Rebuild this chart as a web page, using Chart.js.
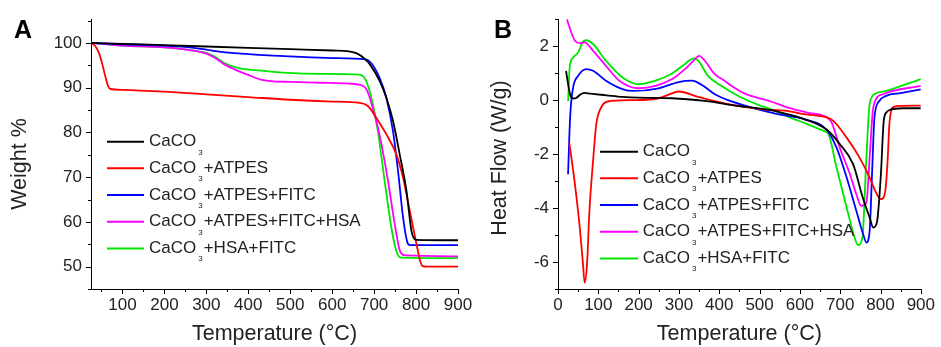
<!DOCTYPE html>
<html><head><meta charset="utf-8">
<script src="https://cdn.jsdelivr.net/npm/chart.js@4/dist/chart.umd.min.js"></script>
<style>
html,body{margin:0;padding:0;background:#fff;}
#wrap{position:relative;width:941px;height:347px;overflow:hidden;background:#fff;}
#wrap canvas{position:absolute;left:0;top:0;}
</style></head><body>
<div id="wrap"><canvas id="cA" width="941" height="347"></canvas><canvas id="cB" width="941" height="347"></canvas></div>
<script>
// ---------- series names ----------
const seriesLabels = ['CaCO₃', 'CaCO₃+ATPES', 'CaCO₃+ATPES+FITC', 'CaCO₃+ATPES+FITC+HSA', 'CaCO₃+HSA+FITC'];

// ---------- Panel A: TGA, [temperature °C, weight %] ----------
const tgaCaCO3 = [[25,100],[60,99.9],[100,99.8],[200,99.5],[300,99.2],[400,98.9],[500,98.6],[600,98.3],[640,98.1],[660,97.6],[677,96.5],[690,95.2],[713,91.5],[729,87.8],[745,82.6],[761,75.1],[777,67],[789,58],[795,56.3],[800,56],[900,55.9]];
const tgaATPES = [[25,100],[35,99.3],[45,97.5],[52,95.2],[60,92.2],[66,90.3],[72,89.7],[100,89.5],[200,89.1],[300,88.5],[400,87.9],[500,87.3],[600,86.9],[665,86.6],[685,85.9],[705,83.3],[729,79.6],[753,75.1],[769,69.9],[785,62.5],[801,55.1],[810,51.2],[816,50.1],[825,50],[900,50]];
const tgaATPES_FITC = [[25,100],[100,99.7],[200,99.4],[260,99],[300,98.5],[335,98],[400,97.5],[500,97],[600,96.6],[680,96.3],[693,95.5],[713,92.2],[729,87.8],[745,80.3],[757,71.4],[769,61],[779,55.5],[785,54.8],[900,54.8]];
const tgaATPES_FITC_HSA = [[25,100],[100,99.4],[200,99],[260,98.4],[300,97.6],[320,96.7],[343,95.2],[367,94.1],[398,92.9],[430,91.8],[460,91.4],[500,91.3],[573,91.1],[640,90.9],[667,90.6],[682,89.6],[701,84],[716,78.1],[733,69.2],[749,59.6],[760,54],[765,52.9],[775,52.5],[900,52.3]];
const tgaHSA_FITC = [[25,100],[100,99.4],[200,99],[255,98.5],[280,98.1],[300,97.8],[319,97],[343,95.5],[375,94.4],[430,93.8],[494,93.3],[573,93.1],[665,92.9],[681,91.5],[697,86.3],[709,80.3],[725,69.2],[741,58.8],[750,54.5],[757,52.5],[765,52],[900,51.9]];

// ---------- Panel B: DSC, [temperature °C, heat flow W/g] ----------
const dscCaCO3 = [[20,1.08],[25,0.6],[31,0.16],[38,0.06],[45,0.08],[55,0.2],[65,0.27],[80,0.24],[120,0.18],[160,0.12],[200,0.09],[283,0.07],[364,-0.03],[446,-0.21],[528,-0.37],[569,-0.52],[600,-0.65],[667,-1.1],[699,-1.63],[732,-2.37],[756,-3.61],[773,-4.35],[782,-4.72],[791,-4.54],[801,-2.74],[808,-0.77],[815,-0.45],[822,-0.37],[855,-0.3],[900,-0.3]];
const dscATPES = [[28,-1.57],[42,-3.12],[54,-4.72],[62,-6.08],[66,-6.76],[72,-6.08],[78,-4.1],[87,-2.25],[95,-0.89],[107,-0.27],[123,-0.05],[185,0],[250,0.07],[283,0.25],[299,0.32],[348,0.12],[422,-0.15],[503,-0.33],[568,-0.4],[610,-0.52],[667,-0.64],[683,-0.77],[716,-1.39],[748,-2.13],[773,-2.87],[789,-3.43],[801,-3.67],[812,-3.36],[818,-2.13],[822,-0.89],[830,-0.27],[846,-0.21],[900,-0.2]];
const dscATPES_FITC = [[25,-2.75],[28,-1.39],[31,-0.4],[37.5,0.47],[50,0.9],[70,1.15],[87,1.09],[119,0.72],[160,0.41],[185,0.34],[250,0.44],[299,0.67],[332,0.72],[356,0.57],[389,0.22],[422,0],[479,-0.27],[544,-0.52],[610,-0.7],[667,-1.11],[691,-1.76],[716,-2.87],[740,-4.1],[757,-4.97],[765,-5.28],[773,-4.85],[779,-2.74],[785,-0.64],[797,-0.03],[814,0.16],[850,0.26],[900,0.4]];
const dscATPES_FITC_HSA = [[22,3.0],[33,2.51],[42,2.2],[54,2.11],[66,2.14],[87,1.83],[119,1.27],[152,0.72],[201,0.44],[242,0.53],[283,0.78],[315,1.15],[340,1.52],[350,1.64],[364,1.46],[389,0.96],[413,0.72],[430,0.53],[462,0.25],[528,-0.05],[569,-0.27],[618,-0.46],[667,-0.64],[679,-0.83],[699,-1.76],[724,-2.74],[740,-3.49],[752,-3.92],[765,-3.8],[773,-2.13],[781,-0.4],[789,0.04],[806,0.22],[900,0.53]];
const dscHSA_FITC = [[25,-0.03],[29,1.21],[37.5,1.58],[50,1.77],[62,2.17],[70,2.22],[87,2.08],[119,1.46],[160,0.84],[201,0.59],[242,0.72],[283,0.99],[315,1.34],[336,1.55],[348,1.46],[372,0.9],[405,0.53],[446,0.16],[503,-0.21],[528,-0.33],[569,-0.6],[618,-0.89],[659,-1.14],[671,-1.26],[691,-2.5],[716,-3.98],[736,-5.1],[744,-5.37],[755,-5.1],[765,-2.13],[773,-0.15],[785,0.22],[814,0.34],[900,0.78]];

// ---------- tick labels ----------
const xTicksA = [100,200,300,400,500,600,700,800,900];
const yTicksA = [50,60,70,80,90,100];
const xTicksB = [0,100,200,300,400,500,600,700,800,900];
const yTicksB = [-6,-4,-2,0,2];

const tgaSeries = [tgaCaCO3, tgaATPES, tgaATPES_FITC, tgaATPES_FITC_HSA, tgaHSA_FITC];
const dscSeries = [dscCaCO3, dscATPES, dscATPES_FITC, dscATPES_FITC_HSA, dscHSA_FITC];

const seriesColors = ['#000000', '#ff0000', '#0000ff', '#ff00ff', '#00e600'];
const FONT = "'Liberation Sans', Arial, Helvetica, sans-serif";
const TEXT = '#222';

function drawChem(ctx, text, x, y) {
  ctx.fillStyle = TEXT; ctx.textAlign = 'left';
  const parts = text.split('₃');
  parts.forEach((p, k) => {
    ctx.font = '17px ' + FONT; ctx.textBaseline = 'middle';
    ctx.fillText(p, x, y); x += ctx.measureText(p).width;
    if (k < parts.length - 1) {
      ctx.font = '8px ' + FONT; ctx.textBaseline = 'alphabetic';
      x += 2; ctx.fillText('3', x, y + 13); x += ctx.measureText('3').width + 1;
    }
  });
}

const decor = {
  id: 'decor',
  afterDraw(chart, args, o) {
    const ctx = chart.ctx, ca = chart.chartArea;
    const xs = chart.scales.x, ys = chart.scales.y;
    ctx.save();
    ctx.strokeStyle = '#000'; ctx.lineWidth = 1;
    const ticks = (scale, minor, major, horiz) => {
      const start = Math.ceil(scale.min / minor - 1e-9) * minor;
      for (let v = start; v <= scale.max + 1e-9; v += minor) {
        const isMajor = Math.abs(v / major - Math.round(v / major)) < 1e-6;
        const len = isMajor ? 5 : 3;
        const p = Math.round(scale.getPixelForValue(v)) + 0.5;
        ctx.beginPath();
        if (horiz) { ctx.moveTo(p, ca.bottom); ctx.lineTo(p, ca.bottom + len); }
        else { ctx.moveTo(ca.left, p); ctx.lineTo(ca.left - len, p); }
        ctx.stroke();
      }
    };
    ticks(xs, o.xMinor, o.xMajor, true);
    ticks(ys, o.yMinor, o.yMajor, false);
    // panel letter
    ctx.fillStyle = '#000'; ctx.font = 'bold 25px ' + FONT;
    ctx.textAlign = 'left'; ctx.textBaseline = 'alphabetic';
    ctx.fillText(o.letter, o.letterX, o.letterY);
    // y title
    ctx.save();
    ctx.translate(o.yTitleX, o.yTitleY); ctx.rotate(-Math.PI / 2);
    ctx.font = '21.5px ' + FONT; ctx.fillStyle = TEXT;
    ctx.textAlign = 'center'; ctx.textBaseline = 'middle';
    ctx.fillText(o.yTitle, 0, 0);
    ctx.restore();
    // legend
    chart.data.datasets.forEach((ds, i) => {
      const y = o.legY0 + i * o.legDy;
      ctx.strokeStyle = ds.borderColor; ctx.lineWidth = 2;
      ctx.beginPath(); ctx.moveTo(o.legX1, y); ctx.lineTo(o.legX2, y); ctx.stroke();
      drawChem(ctx, ds.label, o.legTx, y);
    });
    ctx.restore();
  }
};

function makeDatasets(series) {
  return series.map((d, i) => ({
    label: seriesLabels[i],
    data: d.map(([x, y]) => ({ x, y })),
    borderColor: seriesColors[i],
    backgroundColor: seriesColors[i],
    borderWidth: 1.8,
    pointRadius: 0,
    fill: false,
    cubicInterpolationMode: 'monotone'
  }));
}

function axisCommon(tickVals, fitFn, pad) {
  return {
    type: 'linear',
    afterBuildTicks: s => { s.ticks = tickVals.map(v => ({ value: v })); },
    afterFit: fitFn,
    grid: { display: true, drawOnChartArea: false, drawTicks: false },
    border: { display: true, color: '#000', width: 1 },
    ticks: { padding: pad, color: TEXT, font: { size: 17, family: FONT }, maxRotation: 0, autoSkip: false, callback: v => String(v) }
  };
}

function makeChart(id, series, o) {
  const xAxis = axisCommon(o.xTicks, s => { s.height = 58; }, 6);
  xAxis.min = o.xMin; xAxis.max = o.xMax;
  xAxis.title = { display: true, text: 'Temperature (°C)', color: TEXT, font: { size: 21.5, family: FONT }, padding: { top: 0, bottom: 0 } };
  const yAxis = axisCommon(o.yTicks, s => { s.width = o.yWidth; }, 9);
  yAxis.min = o.yMin; yAxis.max = o.yMax;
  return new Chart(document.getElementById(id), {
    type: 'line',
    data: { datasets: makeDatasets(series) },
    options: {
      responsive: false, animation: false, events: [], devicePixelRatio: 1,
      layout: { padding: o.padding },
      plugins: { legend: { display: false }, tooltip: { enabled: false }, decor: o.decor },
      scales: { x: xAxis, y: yAxis }
    },
    plugins: [decor]
  });
}

makeChart('cA', tgaSeries, {
  xTicks: xTicksA, yTicks: yTicksA, xMin: 25, xMax: 900, yMin: 45, yMax: 105.3, yWidth: 91,
  padding: { left: 0, right: 483, top: 18, bottom: 0 },
  decor: { xMinor: 50, xMajor: 100, yMinor: 5, yMajor: 10, letter: 'A', letterX: 14, letterY: 38,
           yTitle: 'Weight %', yTitleX: 20, yTitleY: 164,
           legX1: 107, legX2: 144, legTx: 149, legY0: 141.7, legDy: 26.67 }
});
makeChart('cB', dscSeries, {
  xTicks: xTicksB, yTicks: yTicksB, xMin: 0, xMax: 900, yMin: -7, yMax: 3, yWidth: 90,
  padding: { left: 468, right: 15, top: 18, bottom: 0 },
  decor: { xMinor: 50, xMajor: 100, yMinor: 1, yMajor: 2, letter: 'B', letterX: 494, letterY: 38,
           yTitle: 'Heat Flow (W/g)', yTitleX: 500, yTitleY: 158,
           legX1: 600, legX2: 638, legTx: 642.7, legY0: 151.7, legDy: 26.67 }
});
</script>
</body></html>
